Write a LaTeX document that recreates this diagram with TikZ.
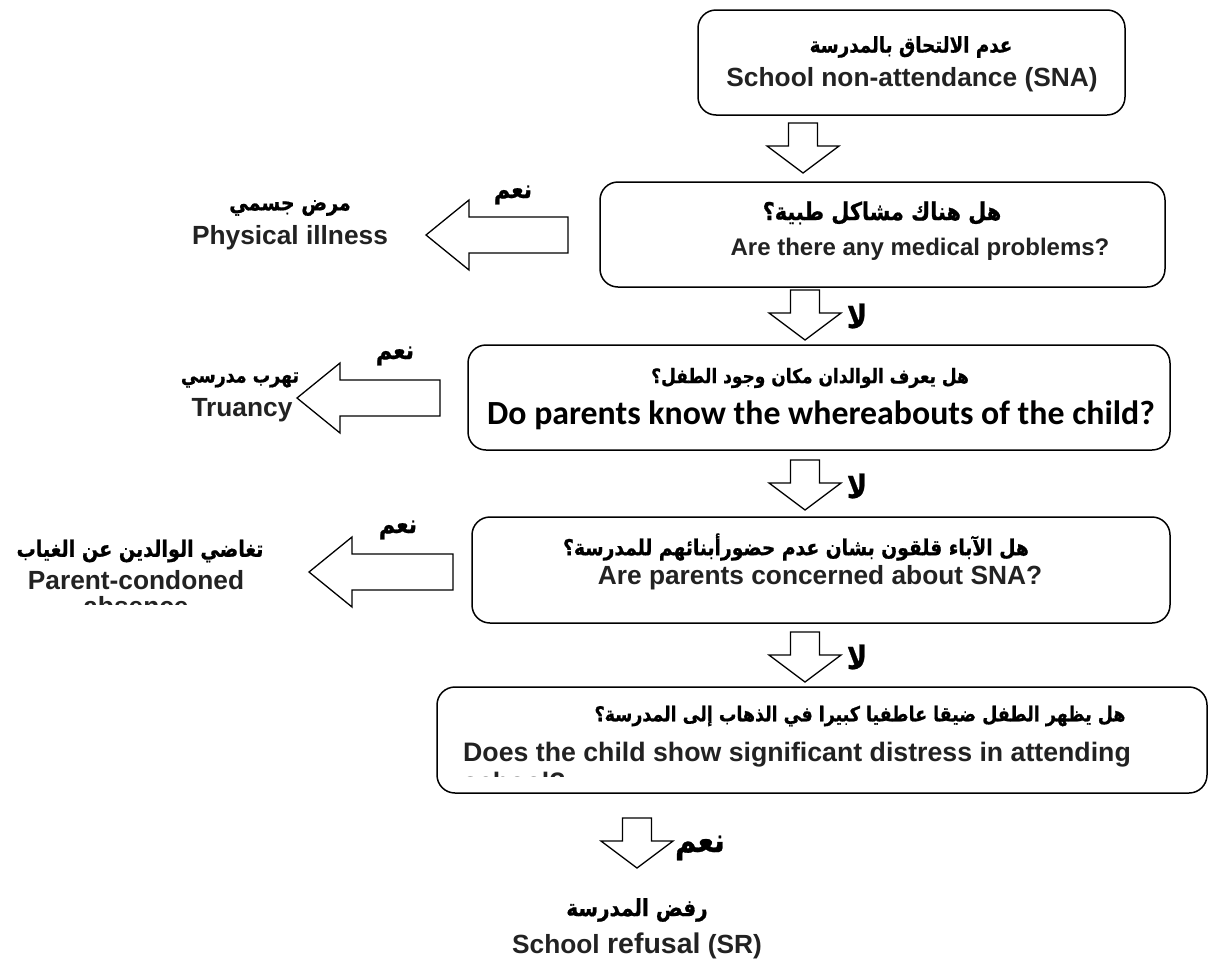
\documentclass[tikz,border=0pt]{standalone}
\usepackage{fontspec}
\setmainfont{Liberation Sans}
\newfontfamily\arfont[Script=Arabic, FakeStretch=0.85, BoldFeatures={FakeStretch=0.85, FakeBold=0.8}]{DejaVu Sans}
\newfontfamily\calfont{Carlito}
\TeXXeTstate=1
\definecolor{ink}{HTML}{222222}
\newcommand\arsz[1]{\fontsize{#1}{#1}\selectfont\arfont\bfseries}
\newcommand\ensz[1]{\fontsize{#1}{#1}\selectfont\bfseries}
\tikzset{
  qbox/.style={draw=black, line width=1.5pt, rounded corners=18pt, inner sep=0pt},
  barrow/.style={draw=black, line width=1.3pt, fill=white, line join=miter},
  en/.style={font=\ensz{26.3}, text=ink, inner sep=0pt},
  enc/.style={font=\fontsize{33.8}{38}\selectfont\calfont\bfseries, text=black, inner sep=0pt},
  ar/.style={font=\arsz{23}, text=black, inner sep=0pt},
  lbl/.style={font=\arsz{32}, text=black, inner sep=0pt}
}
\newcommand\bdown[2]{%
  \draw[barrow] (#1-14.5,#2) -- (#1+14.5,#2) -- (#1+14.5,#2+23) -- (#1+36,#2+23)
    -- (#1,#2+50) -- (#1-36,#2+23) -- (#1-14.5,#2+23) -- cycle;}
\newcommand\bleft[3]{%
  \draw[barrow] (#1,#3-18) -- (#2+43,#3-18) -- (#2+43,#3-35) -- (#2,#3)
    -- (#2+43,#3+35) -- (#2+43,#3+18) -- (#1,#3+18) -- cycle;}
\begin{document}
\begin{tikzpicture}[x=1pt,y=-1pt]
\useasboundingbox[fill=white] (0,0) rectangle (1209,972);

% boxes
\node[qbox, minimum width=427pt, minimum height=105pt] (b1) at (911.5,62.5) {};
\node[qbox, minimum width=565pt, minimum height=105pt] (b2) at (882.5,234.5) {};
\node[qbox, minimum width=702pt, minimum height=105pt] (b3) at (819,397.5) {};
\node[qbox, minimum width=698pt, minimum height=106pt] (b4) at (821,570) {};
\node[qbox, minimum width=770pt, minimum height=106pt] (b5) at (822,740) {};

% box texts
\node[ar, font=\arsz{21.5}] (b1a) at (911,47) {\beginR عدم الالتحاق بالمدرسة\endR};
\node[en] (b1e) at (912,80) {School non-attendance (SNA)};
\node[ar, font=\arsz{24.5}] (b2a) at (882,213) {\beginR هل هناك مشاكل طبية؟\endR};
\node[en, font=\ensz{24}] (b2e) at (920,249) {Are there any medical problems?};
\node[ar, font=\arsz{20}] (b3a) at (810,378) {\beginR هل يعرف الوالدان مكان وجود الطفل؟\endR};
\node[enc] (b3e) at (821,415) {Do parents know the whereabouts of the child?};
\node[ar, font=\arsz{22}] (b4a) at (796,547) {\beginR هل الآباء قلقون بشان عدم حضورأبنائهم للمدرسة؟\endR};
\node[en] (b4e) at (820,578) {Are parents concerned about SNA?};
\node[ar, font=\arsz{20.5}] (b5a) at (860,716) {\beginR هل يظهر الطفل ضيقا عاطفيا كبيرا في الذهاب إلى المدرسة؟\endR};
\node[en, font=\ensz{26.7}, anchor=base west] (b5e) at (463,761) {Does the child show significant distress in attending};
\begin{scope}
  \clip (437,687) rectangle (1207,776);
  \node[en, font=\ensz{26.7}, anchor=base west] (b5e2) at (463,791) {school?};
\end{scope}

% down arrows
\bdown{803}{123}
\bdown{805}{290}
\bdown{805}{460}
\bdown{805}{632}
\bdown{637}{818}
\node[lbl] (no1) at (857,316) {\beginR لا\endR};
\node[lbl] (no2) at (857,486) {\beginR لا\endR};
\node[lbl] (no3) at (857,657) {\beginR لا\endR};
\node[lbl, font=\arsz{34}] (yes4) at (700,848) {\beginR نعم\endR};

% left arrows
\bleft{568}{426}{235}
\bleft{440}{297}{398}
\bleft{453}{309}{572}
\node[lbl, font=\arsz{26}] (yes1) at (513,195) {\beginR نعم\endR};
\node[lbl, font=\arsz{26}] (yes2) at (395,356) {\beginR نعم\endR};
\node[lbl, font=\arsz{26}] (yes3) at (398,530) {\beginR نعم\endR};

% outcomes
\node[ar, font=\arsz{22.5}] (o1a) at (290,208) {\beginR مرض جسمي\endR};
\node[en] (o1e) at (290,238) {Physical illness};
\node[ar, font=\arsz{20.5}] (o2a) at (240,380) {\beginR تهرب مدرسي\endR};
\node[en] (o2e) at (242,410) {Truancy};
\node[ar, font=\arsz{22.5}] (o3a) at (140,551) {\beginR تغاضي الوالدين عن الغياب\endR};
\node[en] (o3e) at (136,580) {Parent-condoned};
\begin{scope}
  \clip (0,0) rectangle (480,604);
  \node[en, anchor=base] (o3e2) at (136,615) {absence};
\end{scope}
\node[ar, font=\arsz{23.5}] (o4a) at (637,910) {\beginR رفض المدرسة\endR};
\node[en] (o4e) at (637,946) {School {\fontsize{28.5}{30}\selectfont refusal} (SR)};
\end{tikzpicture}
\end{document}
